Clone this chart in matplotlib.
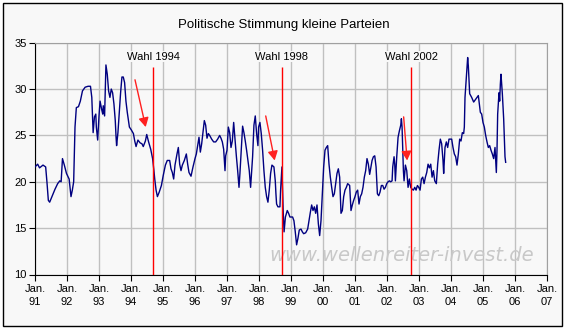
import numpy as np
import matplotlib.pyplot as plt
from matplotlib.patches import Rectangle

plt.rcParams['font.family'] = ['Liberation Sans', 'DejaVu Sans']

# Monate seit Jan. 1991 und Umfragewerte
monate = [0, 1, 1.7, 3, 4, 4.5, 5, 5.5, 6.5, 7.5, 8.5, 9.3, 9.8, 10.3, 11, 11.8,
          12.8, 13.5, 14, 14.5, 15, 15.5, 16.3, 17, 17.8, 18.8, 19.9, 20.8, 21.3,
          21.8, 22.3, 22.8, 23, 23.5, 24, 24.4, 25.0, 25.4, 25.6, 26.1, 26.6, 27.1,
          27.6, 28.1, 28.6, 29.1, 29.6, 30.1, 30.4, 30.6, 31.1, 31.6, 32.1, 32.6,
          33.1, 33.6, 34.1, 34.6, 35.4, 36.1, 36.9, 37.4, 37.9, 38.6, 39.4, 40.1,
          40.6, 41.4, 41.9, 42.6, 43.4, 44.1, 44.6, 44.9, 45.4, 45.9, 46.6, 47.4,
          48.1, 48.9, 49.6, 50.5, 51.0, 51.5, 52.0, 52.5, 53.25, 53.75, 54.25,
          54.75, 55.25, 56.0, 56.75, 57.25, 57.75, 58.5, 59.25, 60.0, 60.5, 61.0,
          61.5, 62.0, 62.5, 63.0, 63.5, 64.0, 64.5, 65.0, 65.5, 66.25, 67.0, 67.75,
          68.5, 69.25, 69.75, 70.25, 70.75, 71.25, 71.5, 72.0, 72.5, 73.0, 73.5,
          74.0, 74.5, 75.0, 75.5, 76.0, 76.5, 76.85, 77.35, 77.85, 78.35, 78.85,
          79.35, 79.85, 80.35, 80.85, 81.1, 81.6, 82.1, 82.6, 83.1, 83.6, 83.85,
          84.35, 84.85, 85.35, 85.85, 86.35, 86.85, 87.35, 87.85, 88.35, 88.85,
          89.6, 90.1, 90.35, 90.6, 91.1, 91.85, 92.1, 92.6, 93.1, 93.4, 93.9, 94.6,
          95.1, 95.6, 96.1, 96.6, 97.1, 97.6, 98.1, 98.6, 99.1, 99.75, 100.25,
          100.75, 101.5, 102.25, 102.75, 103.25, 103.75, 104.25, 104.75, 105.25,
          105.75, 106.25, 106.75, 107.25, 107.75, 108.25, 108.75, 109.25, 109.75,
          110.25, 110.75, 111.25, 111.75, 112.25, 112.75, 113.25, 113.75, 114.25,
          114.75, 115.25, 115.75, 116.25, 116.75, 117.25, 118.0, 118.5, 119.0,
          119.5, 120.0, 120.5, 121.0, 121.5, 122.0, 122.5, 123.0, 123.5, 124.0,
          124.5, 125.0, 125.5, 126.4, 126.9, 127.4, 127.9, 128.4, 128.9, 129.4,
          129.9, 130.4, 130.9, 131.4, 131.9, 132.4, 132.9, 133.4, 133.9, 134.15,
          134.65, 134.9, 135.15, 135.65, 136.15, 136.65, 137.15, 137.4, 137.65,
          137.9, 138.15, 138.4, 138.9, 139.4, 139.9, 140.4, 140.65, 140.9, 141.4,
          141.9, 142.4, 142.9, 143.4, 143.9, 144.4, 144.9, 145.4, 145.9, 146.4,
          146.9, 147.4, 147.9, 148.4, 148.9, 149.4, 149.9, 150.5, 151.0, 151.5,
          152.0, 152.5, 153.0, 153.25, 153.75, 154.25, 154.75, 155.25, 155.75,
          156.25, 156.75, 157.25, 157.75, 158.25, 158.75, 159.25, 159.75, 160.25,
          160.75, 161.0, 161.25, 161.75, 162.25, 162.5, 163.0, 163.75, 164.5,
          165.25, 166.25, 167.0, 167.5, 168.0, 168.5, 169.0, 169.5, 170.0, 170.5,
          171.0, 171.5, 172.0, 172.5, 173.0, 173.25, 173.5, 174.0, 174.25, 174.5,
          174.75, 175.0, 175.25, 175.75, 176.25, 176.5]
werte = [21.6, 21.9, 21.5, 21.8, 21.6, 19.9, 18.0, 17.8, 18.5, 19.2, 19.8, 20.1,
         20.0, 22.5, 21.8, 20.9, 20.3, 18.4, 19.1, 20.0, 25.9, 28.0, 28.1, 28.7,
         29.8, 30.2, 30.3, 30.3, 29.1, 25.3, 27.0, 27.3, 25.9, 24.5, 27.1, 28.7,
         27.8, 27.3, 28.2, 27.1, 32.6, 31.6, 29.8, 29.1, 30.0, 29.6, 28.4, 26.6,
         24.8, 23.9, 25.3, 27.5, 29.6, 31.3, 31.3, 30.7, 28.7, 27.5, 25.9, 25.6,
         25.2, 24.4, 23.8, 24.5, 24.2, 24.1, 23.8, 24.4, 25.1, 24.3, 23.5, 22.5,
         21.2, 20.3, 19.1, 18.4, 18.9, 19.6, 20.7, 21.8, 22.3, 22.3, 21.4, 21.0,
         20.3, 21.8, 23.0, 23.7, 21.9, 21.2, 21.8, 22.3, 23.0, 21.9, 21.0, 20.6,
         21.6, 22.5, 23.0, 23.9, 24.8, 23.2, 24.1, 25.3, 26.6, 26.1, 24.7, 25.2,
         25.0, 24.6, 24.3, 24.3, 24.6, 25.0, 24.7, 24.3, 23.5, 21.2, 22.8, 23.4,
         25.9, 25.3, 23.7, 24.4, 26.4, 24.6, 22.8, 21.2, 19.4, 20.9, 23.4, 26.0,
         25.3, 24.4, 23.4, 22.3, 21.2, 19.4, 20.5, 22.7, 26.1, 27.1, 25.2, 23.9,
         25.9, 26.4, 25.2, 23.4, 21.2, 19.4, 18.4, 17.8, 19.1, 20.9, 21.8, 21.6,
         20.1, 18.7, 17.6, 17.3, 17.3, 19.1, 21.6, 16.6, 14.6, 16.2, 16.9, 16.6,
         16.2, 16.2, 16.2, 15.8, 14.6, 13.2, 13.9, 14.8, 14.9, 14.6, 14.4, 14.5,
         14.9, 15.8, 16.7, 17.5, 16.9, 17.3, 16.6, 17.5, 15.5, 14.2, 15.8, 18.7,
         21.6, 23.4, 23.7, 23.9, 21.9, 20.5, 19.4, 18.4, 18.7, 19.8, 20.9, 21.4,
         20.5, 16.6, 16.9, 18.4, 19.1, 19.4, 19.8, 19.6, 16.9, 17.5, 18.0, 18.4,
         18.9, 19.1, 17.6, 18.4, 18.7, 19.4, 20.5, 21.2, 22.5, 21.9, 20.8, 22.3,
         22.7, 22.8, 21.6, 18.7, 18.5, 18.9, 19.6, 19.6, 19.2, 19.4, 19.8, 20.0,
         20.1, 20.0, 20.1, 21.6, 22.7, 21.9, 20.1, 22.7, 24.8, 25.5, 26.1, 26.8,
         25.9, 23.4, 21.2, 20.1, 21.8, 21.2, 19.4, 20.3, 19.8, 19.4, 19.2, 19.1,
         19.4, 19.1, 19.6, 19.4, 19.1, 20.3, 20.5, 19.8, 20.5, 21.0, 21.9, 21.5,
         21.9, 20.5, 21.2, 20.1, 19.8, 21.9, 23.4, 24.6, 24.1, 22.3, 20.9, 23.7,
         24.3, 23.7, 24.6, 24.6, 24.6, 23.7, 23.0, 22.7, 21.8, 23.0, 24.6, 24.4,
         25.3, 25.2, 25.9, 29.1, 31.3, 33.4, 32.5, 29.5, 29.1, 28.6, 28.9, 29.3,
         27.5, 27.3, 26.4, 25.9, 25.0, 24.3, 23.7, 23.9, 23.4, 23.0, 22.5, 23.7,
         21.0, 23.4, 27.3, 29.6, 28.7, 30.5, 31.6, 30.5, 29.5, 26.8, 22.7, 22.1]

wahl_jahre = [1994.70, 1998.71, 2002.76]
wahl_texte = ['Wahl 1994', 'Wahl 1998', 'Wahl 2002']
pfeil_start = [(1994.125, 31.0), (1998.21, 27.1), (2002.52, 27.0)]
pfeil_ziel = [(1994.46, 25.9), (1998.49, 22.3), (2002.63, 22.3)]

jahre = list(range(1991, 2008))
jahr_labels = ['Jan.\n' + str(j)[2:] for j in jahre]

bg = '#F8F8F8'
fig = plt.figure(figsize=(5.65, 3.28), dpi=100, facecolor='white')
fig.patches.append(Rectangle((3 / 565, 2 / 328), 559 / 565, 323 / 328,
                             transform=fig.transFigure, facecolor=bg,
                             edgecolor='black', linewidth=1, zorder=-10))
ax = fig.add_axes([35 / 565, 53.5 / 328, 512 / 565, 231.8 / 328])
ax.set_facecolor(bg)

x = 1991 + np.array(monate) / 12.0
ax.plot(x, werte, color='#000080', linewidth=1.0, zorder=3)

ax.text(0.717, 0.084, 'www.wellenreiter-invest.de', transform=ax.transAxes,
        ha='center', va='center', fontsize=14, style='italic',
        family='DejaVu Sans', color='#C8C8C8', zorder=2)

for wj, wt in zip(wahl_jahre, wahl_texte):
    ax.vlines(wj, 10, 32.4, color='#FF0000', linewidth=1.0, zorder=4)
    ax.text(wj, 33.5, wt, ha='center', va='center', fontsize=8,
            bbox=dict(facecolor=bg, edgecolor='none', pad=0.5), zorder=5)

for s, z in zip(pfeil_start, pfeil_ziel):
    ax.annotate('', xy=z, xytext=s,
                arrowprops=dict(arrowstyle='-|>,head_length=0.55,head_width=0.3',
                                color='#FF2020', lw=1.0, mutation_scale=10,
                                shrinkA=0, shrinkB=0), zorder=6)

ax.set_xlim(1991, 2007)
ax.set_ylim(10, 35)
ax.set_xticks(jahre)
ax.set_xticklabels(jahr_labels, fontsize=8, linespacing=1.4)
ax.set_yticks(range(10, 36, 5))
ax.tick_params(axis='x', length=4, pad=3, direction='out')
ax.tick_params(axis='y', length=4, pad=2, labelsize=8, direction='out')
ax.grid(True, color='#C0C0C0', linewidth=1.0, zorder=1)
ax.set_axisbelow(True)
for sp in ['top', 'right']:
    ax.spines[sp].set_color('#A0A0A0')
for sp in ['left', 'bottom']:
    ax.spines[sp].set_color('black')

fig.text(0.503, 0.924, 'Politische Stimmung kleine Parteien', ha='center',
         va='center', fontsize=9.5)

fig.savefig('out.png', dpi=100, facecolor='white')
